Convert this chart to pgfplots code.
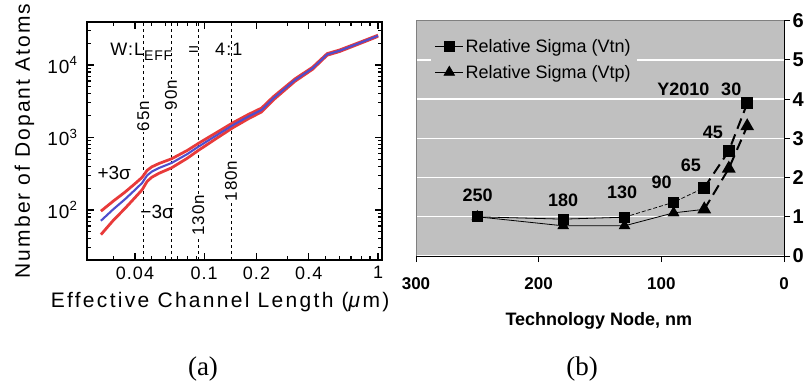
\documentclass[border=0pt]{standalone}
\usepackage{pgfplots}
\pgfplotsset{compat=1.18}
\usepackage{fontspec}
\setmainfont{Liberation Sans}
\newfontfamily\seriffont{Liberation Serif}
\newfontfamily\spacedfont[LetterSpace=6]{Liberation Sans}
\newfontfamily\ylabfont[LetterSpace=10]{Liberation Sans}
\newfontfamily\xlabfont[LetterSpace=11]{Liberation Sans}
\newcommand\fs[1]{\fontsize{#1bp}{#1bp}\selectfont}
\definecolor{plotgray}{RGB}{192,192,192}
\definecolor{myred}{RGB}{232,58,58}
\definecolor{myblue}{RGB}{78,78,205}
\begin{document}
\begin{tikzpicture}
\useasboundingbox (0bp,0bp) rectangle (805bp,385bp);
% ---------------- panel (a) ----------------
\begin{axis}[
  at={(87bp,125bp)}, anchor=south west, scale only axis,
  width=295bp, height=238bp,
  xmode=log, ymode=log,
  xmin=0.0212, xmax=1.054, ymin=20.4, ymax=39200,
  axis line style={line width=2.4bp},
  xtick={0.04,0.1,0.2,0.4,1}, xticklabels={0.04,0.1,0.2,0.4,1},
  minor xtick={0.03,0.05,0.06,0.07,0.08,0.09,0.3,0.5,0.6,0.7,0.8,0.9},
  ytick={100,1000,10000},
  yticklabels={10\textsuperscript{2},10\textsuperscript{3},10\textsuperscript{4}},
  minor ytick={30,40,50,60,70,80,90,200,300,400,500,600,700,800,900,2000,3000,4000,5000,6000,7000,8000,9000,20000,30000},
  tick align=inside, major tick length=7bp, minor tick length=4bp,
  every tick/.style={black, line width=1.2bp},
  xticklabel style={font=\spacedfont\fs{18}, yshift=-3bp},
  yticklabel style={font=\spacedfont\fs{19}, xshift=-6bp},
  xlabel={Effective Channel Length (\textit{μ}m)},
  ylabel={Number of Dopant Atoms},
  xlabel style={font=\xlabfont\fs{21}, at={(axis description cs:0.451,-0.176)}, anchor=center},
  ylabel style={font=\ylabfont\fs{21}, at={(axis description cs:-0.212,0.5)}, anchor=center},
]
% dashed node lines
\addplot[black, line width=0.8bp, dash pattern=on 3bp off 3bp] coordinates {(0.0446,20.4) (0.0446,39200)};
\addplot[black, line width=0.8bp, dash pattern=on 3bp off 3bp] coordinates {(0.0646,20.4) (0.0646,39200)};
\addplot[black, line width=0.8bp, dash pattern=on 3bp off 3bp] coordinates {(0.0924,20.4) (0.0924,39200)};
\addplot[black, line width=0.8bp, dash pattern=on 3bp off 3bp] coordinates {(0.143,20.4) (0.143,39200)};
% +3 sigma
\addplot[myred, line width=2.8bp] coordinates {
(0.0255,96.3) (0.030,132.3) (0.035,175.5) (0.040,230.2) (0.044,282.1) (0.047,352) (0.050,393.2)
(0.055,437.4) (0.065,508.3) (0.080,662.9) (0.093,832.2) (0.120,1199.5) (0.147,1605.8)
(0.180,2082.5) (0.214,2547) (0.250,3646.7) (0.333,6436) (0.420,9285) (0.510,14355)
(0.600,16076) (0.800,20930) (1.000,25777)};
% -3 sigma
\addplot[myred, line width=2.8bp] coordinates {
(0.0255,45.7) (0.030,71.7) (0.035,104.5) (0.040,147.8) (0.044,189.9) (0.047,248) (0.050,282.8)
(0.055,320.6) (0.065,381.7) (0.080,517.1) (0.093,667.8) (0.120,1000.5) (0.147,1374.2)
(0.180,1817.5) (0.214,2253) (0.250,3293.3) (0.333,5964) (0.420,8715) (0.510,13645)
(0.600,15324) (0.800,20070) (1.000,24823)};
% mean
\addplot[myblue, line width=2.1bp] coordinates {
(0.0255,71) (0.030,102) (0.035,140) (0.040,189) (0.044,236) (0.047,300) (0.050,338)
(0.055,379) (0.065,445) (0.080,590) (0.093,750) (0.120,1100) (0.147,1490)
(0.180,1950) (0.214,2400) (0.250,3470) (0.333,6200) (0.420,9000) (0.510,14000)
(0.600,15700) (0.800,20500) (1.000,25300)};
\node[font=\spacedfont\fs{17}, rotate=90, fill=white, inner sep=1bp] at (axis cs:0.0446,1980) {65n};
\node[font=\spacedfont\fs{17}, rotate=90, fill=white, inner sep=1bp] at (axis cs:0.0646,3860) {90n};
\node[font=\spacedfont\fs{17}, rotate=90, fill=white, inner sep=1bp] at (axis cs:0.0924,85) {130n};
\node[font=\spacedfont\fs{17}, rotate=90, fill=white, inner sep=1bp] at (axis cs:0.143,251) {180n};
\node[font=\spacedfont\fs{18}, anchor=west, inner sep=0pt] at (axis cs:0.0288,15100) {W:L\raisebox{-0.3em}{\fs{14}EFF}\hspace{0.9em}=\hspace{0.9em}4:1};
\node[font=\fs{19}, inner sep=0pt] at (axis cs:0.0304,324) {+3σ};
\node[font=\fs{19}, inner sep=0pt] at (axis cs:0.0537,94) {−3σ};
\end{axis}
% ---------------- panel (b) ----------------
\begin{axis}[
  at={(416bp,129bp)}, anchor=south west, scale only axis,
  width=368bp, height=235.3bp,
  xmin=0, xmax=300, x dir=reverse, ymin=0, ymax=6,
  axis background/.style={fill=plotgray},
  axis x line*=bottom, axis y line*=right,
  axis line style={black, line width=0.9bp},
  xtick={0,100,200,300}, xticklabels={0,100,200,300},
  ytick={0,1,2,3,4,5,6}, yticklabels={0,1,2,3,4,5,6},
  ymajorgrids, grid style={white, line width=1.4bp},
  tick align=outside, major tick length=6bp,
  every tick/.style={black, line width=0.9bp},
  xticklabel style={font=\bfseries\fs{17}, yshift=-12bp},
  yticklabel style={font=\bfseries\fs{20}, xshift=-1bp},
  xlabel={Technology Node, nm},
  xlabel style={font=\bfseries\fs{18}, at={(axis description cs:0.497,-0.275)}, anchor=center},
  legend style={at={(rel axis cs:0.04,0.942)}, anchor=north west, fill=plotgray, draw=none,
     font=\fs{18}, row sep=7bp, inner xsep=4bp, inner ysep=3bp},
  legend cell align=left,
  legend image code/.code={\draw[#1, mark=none] (0bp,0bp) -- (28bp,0bp);
     \draw[#1] plot[only marks] coordinates {(14bp,0bp)};},
]
\draw[gray, line width=0.8bp] (rel axis cs:0,0) -- (rel axis cs:0,1) -- (rel axis cs:1,1);
\addplot[black, line width=0.8bp, mark=square*, mark size=5bp] coordinates {(250,1.0) (180,0.94) (130,0.99)};
\addlegendentry{Relative Sigma (Vtn)}
\addplot[black, line width=0.8bp, mark=triangle*, mark size=6bp] coordinates {(250,1.0) (180,0.77) (130,0.77) (90,1.1) (65,1.19)};
\addlegendentry{Relative Sigma (Vtp)}
\addplot[black, line width=0.7bp, dash pattern=on 4bp off 2bp, mark=square*, mark size=5bp, mark options={solid}, forget plot] coordinates {(130,0.99) (90,1.37) (65,1.74)};
\addplot[black, line width=2bp, dash pattern=on 11bp off 6bp, mark=square*, mark size=5bp, mark options={solid}, forget plot] coordinates {(65,1.74) (45,2.68) (30,3.89)};
\addplot[black, line width=2bp, dash pattern=on 11bp off 6bp, mark=triangle*, mark size=6bp, mark options={solid}, forget plot] coordinates {(65,1.19) (45,2.23) (30,3.31)};
\node[font=\bfseries\fs{18}] at (axis cs:249.7,1.56) {250};
\node[font=\bfseries\fs{18}] at (axis cs:180,1.43) {180};
\node[font=\bfseries\fs{18}] at (axis cs:132,1.63) {130};
\node[font=\bfseries\fs{18}] at (axis cs:99.7,1.89) {90};
\node[font=\bfseries\fs{18}] at (axis cs:76,2.30) {65};
\node[font=\bfseries\fs{18}] at (axis cs:58,3.14) {45};
\node[font=\bfseries\fs{18}] at (axis cs:82,4.26) {Y2010};
\node[font=\bfseries\fs{18}] at (axis cs:43,4.26) {30};
\end{axis}
\node[font=\seriffont\fs{27}] at (203bp,16bp) {(a)};
\node[font=\seriffont\fs{27}] at (582bp,16bp) {(b)};
\end{tikzpicture}
\end{document}
